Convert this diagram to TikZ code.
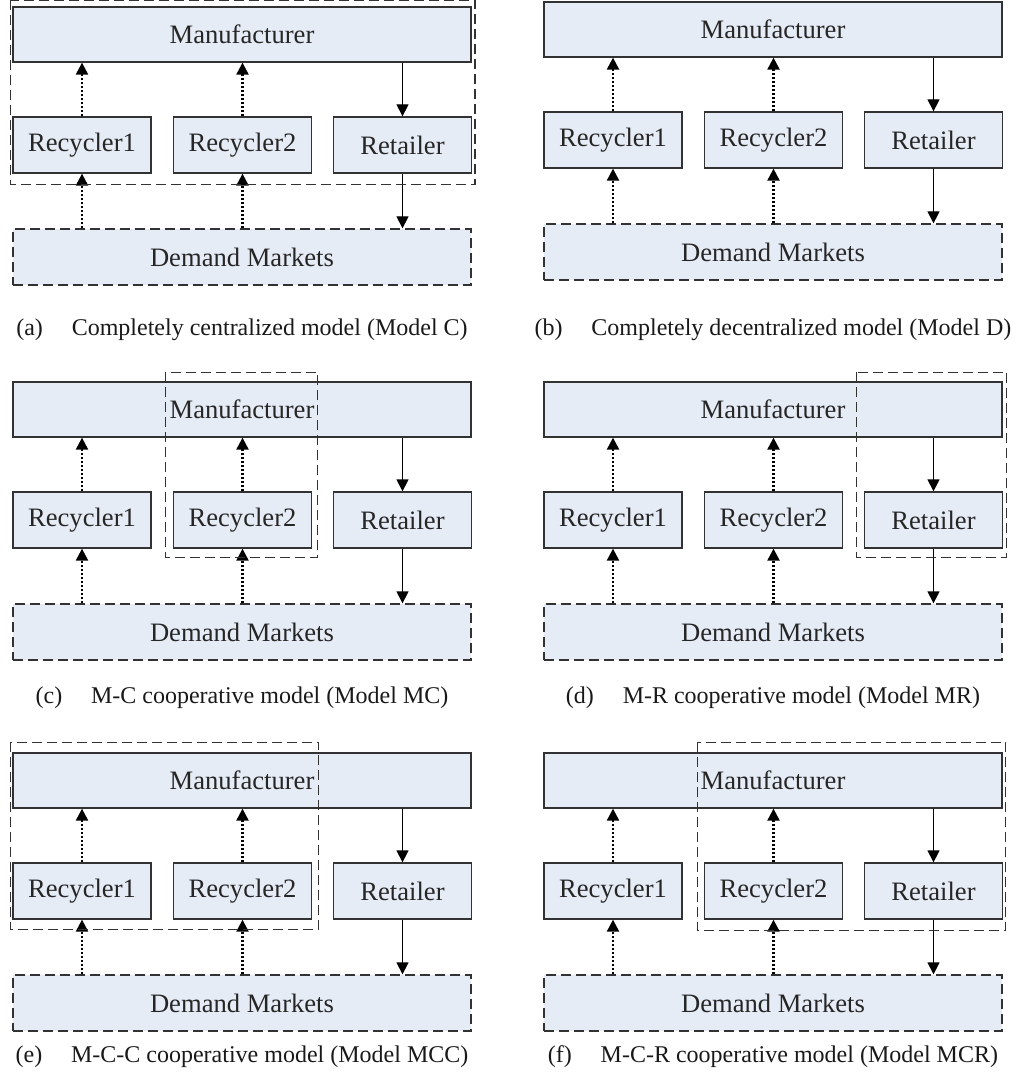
\documentclass[tikz,border=0pt]{standalone}
\usepackage{fontspec}
\setmainfont{Liberation Serif}
\usetikzlibrary{arrows.meta,calc}
\definecolor{boxfill}{RGB}{230,236,246}
\definecolor{edge}{RGB}{50,50,50}

\tikzset{
	box/.style={draw=edge, line width=0.65pt, fill=boxfill, inner sep=0pt, text=black!85, font=\fontsize{13.3}{15}\selectfont},
	mbox/.style={box, minimum width=229pt, minimum height=27.5pt},
	sbox/.style={box, minimum width=69pt, minimum height=28pt},
	dbox/.style={box, minimum width=229pt, minimum height=28pt, dash pattern=on 5pt off 2.5pt},
	flow/.style={black, line width=0.65pt, -{Triangle[length=6pt,width=6pt]}},
	back/.style={flow, line width=1.1pt, dash pattern=on 1pt off 1pt},
	group/.style={draw=edge, line width=0.7pt, dash pattern=on 5pt off 2.5pt},
	captxt/.style={text=black!90, font=\fontsize{12}{14}\selectfont}
}

\begin{document}
\begin{tikzpicture}[x=0.5pt, y=-0.5pt]
	\useasboundingbox (0,0) rectangle (1024,1090);

	% one panel per model
	\foreach \p/\L/\T in {a/13/7, b/544/2, c/13/382, d/544/382, e/13/753, f/544/753}{
		\node[mbox] (\p-man) at ({\L+229},{\T+27.5}) {Manufacturer};
		\node[sbox] (\p-rec1) at ({\L+69},{\T+138}) {Recycler1};
		\node[sbox] (\p-rec2) at ({\L+229.5},{\T+138}) {Recycler2};
		\node[sbox] (\p-ret) at ({\L+389.5},{\T+138}) {Retailer};
		\node[dbox] (\p-dem) at ({\L+229},{\T+250}) {Demand Markets};
		\draw[back] (\p-rec1.north) -- (\p-rec1.north |- \p-man.south);
		\draw[back] (\p-rec2.north) -- (\p-rec2.north |- \p-man.south);
		\draw[back] (\p-rec1.south |- \p-dem.north) -- (\p-rec1.south);
		\draw[back] (\p-rec2.south |- \p-dem.north) -- (\p-rec2.south);
		\draw[flow] (\p-ret.north |- \p-man.south) -- (\p-ret.north);
		\draw[flow] (\p-ret.south) -- (\p-ret.south |- \p-dem.north);
	}

	% cooperating members
	\draw[group] ($(a-man.north west)+(-1pt,3pt)$) rectangle ($(a-ret.south east)+(1.5pt,-5.5pt)$);
	\draw[group] ($(c-rec2.west |- c-man.north)+(-3.75pt,4.5pt)$) rectangle ($(c-rec2.south east)+(2.75pt,-4.5pt)$);
	\draw[group] ($(d-ret.west |- d-man.north)+(-3.75pt,4.5pt)$) rectangle ($(d-ret.south east)+(1.75pt,-4.5pt)$);
	\draw[group] ($(e-man.north west)+(-1pt,5pt)$) rectangle ($(e-rec2.south east)+(3.25pt,-5pt)$);
	\draw[group] ($(f-rec2.west |- f-man.north)+(-3.25pt,5pt)$) rectangle ($(f-ret.south east)+(1.25pt,-5.5pt)$);

	\node[captxt] (cap-a) at (242,330) {(a)\hspace{1.2em}Completely centralized model (Model C)};
	\node[captxt] (cap-b) at (773,330) {(b)\hspace{1.2em}Completely decentralized model (Model D)};
	\node[captxt] (cap-c) at (242,698) {(c)\hspace{1.2em}M-C cooperative model (Model MC)};
	\node[captxt] (cap-d) at (773,698) {(d)\hspace{1.2em}M-R cooperative model (Model MR)};
	\node[captxt] (cap-e) at (242,1057) {(e)\hspace{1.2em}M-C-C cooperative model (Model MCC)};
	\node[captxt] (cap-f) at (773,1057) {(f)\hspace{1.2em}M-C-R cooperative model (Model MCR)};
\end{tikzpicture}
\end{document}
